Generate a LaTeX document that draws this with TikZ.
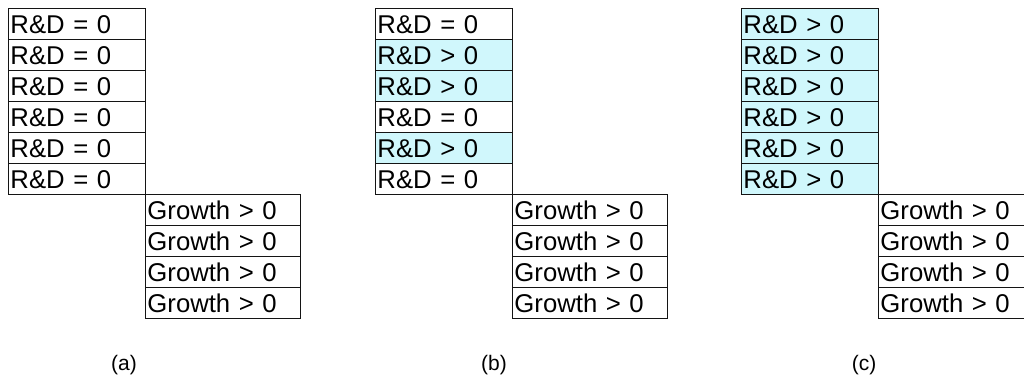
\documentclass[tikz,border=0pt]{standalone}
\usepackage{fontspec}
\setmainfont{Liberation Sans}
\definecolor{cellcyan}{RGB}{208,247,252}
\definecolor{edgegray}{RGB}{20,20,20}
\begin{document}
\begin{tikzpicture}[x=1pt,y=-1pt,
  cell/.style={draw=edgegray, line width=1.3pt, minimum height=31pt,
    inner xsep=1.8pt, inner ysep=0pt, anchor=north west,
    font=\fontsize{25.7pt}{30pt}\selectfont, align=left, text width=#1},
  rd/.style={cell=133.4pt, fill=white},
  rdpos/.style={cell=133.4pt, fill=cellcyan},
  gr/.style={cell=151.4pt, fill=white},
  caplabel/.style={font=\fontsize{21pt}{24pt}\selectfont, inner sep=0pt}]
\useasboundingbox (0,0) rectangle (1024,381);
% panel (a)
\node[rd] (a1) at (8,8) {R\&D = 0};
\node[rd] (a2) at (8,39) {R\&D = 0};
\node[rd] (a3) at (8,70) {R\&D = 0};
\node[rd] (a4) at (8,101) {R\&D = 0};
\node[rd] (a5) at (8,132) {R\&D = 0};
\node[rd] (a6) at (8,163) {R\&D = 0};
\node[gr] (ag1) at (145,194) {Growth > 0};
\node[gr] (ag2) at (145,225) {Growth > 0};
\node[gr] (ag3) at (145,256) {Growth > 0};
\node[gr] (ag4) at (145,287) {Growth > 0};
\node[caplabel] (la) at (124,365) {(a)};
% panel (b)
\node[rd] (b1) at (375,8) {R\&D = 0};
\node[rdpos] (b2) at (375,39) {R\&D > 0};
\node[rdpos] (b3) at (375,70) {R\&D > 0};
\node[rd] (b4) at (375,101) {R\&D = 0};
\node[rdpos] (b5) at (375,132) {R\&D > 0};
\node[rd] (b6) at (375,163) {R\&D = 0};
\node[gr] (bg1) at (512,194) {Growth > 0};
\node[gr] (bg2) at (512,225) {Growth > 0};
\node[gr] (bg3) at (512,256) {Growth > 0};
\node[gr] (bg4) at (512,287) {Growth > 0};
\node[caplabel] (lb) at (494,365) {(b)};
% panel (c)
\node[rdpos] (c1) at (741,8) {R\&D > 0};
\node[rdpos] (c2) at (741,39) {R\&D > 0};
\node[rdpos] (c3) at (741,70) {R\&D > 0};
\node[rdpos] (c4) at (741,101) {R\&D > 0};
\node[rdpos] (c5) at (741,132) {R\&D > 0};
\node[rdpos] (c6) at (741,163) {R\&D > 0};
\node[gr] (cg1) at (878,194) {Growth > 0};
\node[gr] (cg2) at (878,225) {Growth > 0};
\node[gr] (cg3) at (878,256) {Growth > 0};
\node[gr] (cg4) at (878,287) {Growth > 0};
\node[caplabel] (lc) at (864,365) {(c)};
\end{tikzpicture}
\end{document}
